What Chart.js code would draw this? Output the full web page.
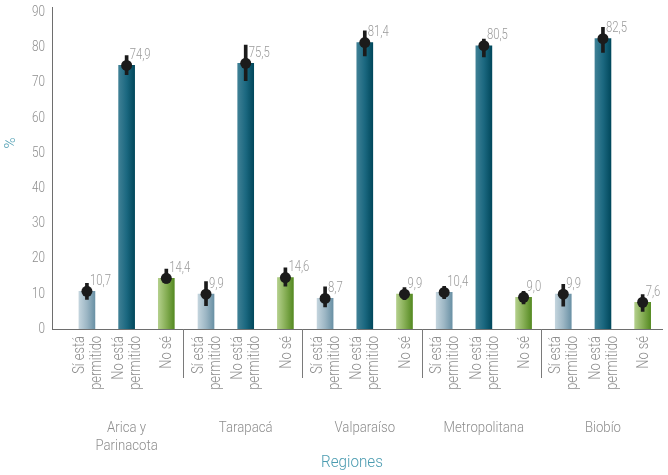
<!DOCTYPE html>
<html>
<head>
<meta charset="utf-8">
<script src="https://cdn.jsdelivr.net/npm/chart.js@4"></script>
<style>
  body { margin: 0; background: #fff; }
  #wrap { width: 668px; height: 475px; }
</style>
</head>
<body>
<div id="wrap"><canvas id="regionChart"></canvas></div>
<script>
// categories
const regions = [["Arica y", "Parinacota"], ["Tarapacá"], ["Valparaíso"], ["Metropolitana"], ["Biobío"]];
const answers = [["Sí está", "permitido"], ["No está", "permitido"], ["No sé"]];

// values per region: Sí está / No está / No sé
const values = [10.7, 74.9, 14.4, 9.9, 75.5, 14.6, 8.7, 81.4, 9.9, 10.4, 80.5, 9.0, 9.9, 82.5, 7.6];
// interval limits
const lower = [8.4, 72.3, 13.0, 6.6, 70.6, 12.2, 6.3, 77.6, 8.3, 8.6, 77.3, 7.1, 6.5, 78.6, 5.0];
const upper = [13.0, 77.7, 17.0, 13.5, 80.7, 17.4, 12.0, 84.7, 11.8, 12.1, 82.4, 10.7, 12.7, 85.7, 9.8];

const yTicks = [0, 10, 20, 30, 40, 50, 60, 70, 80, 90];

const FONT = "Roboto, 'Liberation Sans', sans-serif";
const GREY = "#8e8e8e";
const TEAL = "#4a9bb0";

const tickLabels = [];
regions.forEach(() => answers.forEach(a => tickLabels.push(a)));

// gradient stops for each answer type, left to right
const barStops = [
    ["#c3d4dd", "#9cb6c4", "#6a91a5"],
    ["#3f8095", "#1b6880", "#01485c"],
    ["#b3cf8b", "#86ae55", "#558a22"]
];

function barFill(c) {
    const stops = barStops[c.dataIndex % 3];
    const chart = c.chart;
    if (!chart.chartArea || c.dataIndex === undefined) return stops[1];
    const x = chart.scales.x.getPixelForValue(c.dataIndex);
    const g = chart.ctx.createLinearGradient(x - 8, 0, x + 8, 0);
    g.addColorStop(0, stops[0]);
    g.addColorStop(0.5, stops[1]);
    g.addColorStop(1, stops[2]);
    return g;
}

// narrow light text: the original uses a condensed face
function narrowText(ctx, text, x, y, size, opts) {
    const o = Object.assign({ align: "left", color: GREY, sx: 0.78, rot: 0 }, opts);
    ctx.save();
    ctx.translate(x, y);
    if (o.rot) ctx.rotate(o.rot);
    ctx.scale(o.sx, 1);
    ctx.font = "300 " + size + "px " + FONT;
    ctx.fillStyle = o.color;
    ctx.textAlign = o.align;
    ctx.textBaseline = "middle";
    ctx.fillText(text, 0, 0);
    ctx.restore();
}

const extras = {
    id: "extras",
    afterDatasetsDraw(chart) {
        const { ctx, chartArea, scales } = chart;
        const x = scales.x, y = scales.y;

        // y tick labels
        yTicks.forEach(v => narrowText(ctx, String(v), chartArea.left - 7, y.getPixelForValue(v), 15, { align: "right" }));

        // x tick labels, rotated
        tickLabels.forEach((lines, i) => {
            const px = x.getPixelForValue(i) + 1;
            lines.forEach((line, j) => {
                const off = (j - (lines.length - 1) / 2) * 17;
                narrowText(ctx, line, px + off, chartArea.bottom + 7, 16.5, { align: "right", rot: -Math.PI / 2 });
            });
        });

        // value labels next to the dots
        chart.getDatasetMeta(2).data.forEach((pt, i) => {
            narrowText(ctx, values[i].toFixed(1).replace(".", ","), pt.x + 3, pt.y - 10, 14.5, { color: "#9a9a9a" });
        });

        // separators between regions
        ctx.save();
        ctx.strokeStyle = "#7a7a7a";
        ctx.lineWidth = 1;
        for (let k = 0; k < regions.length - 1; k++) {
            const sx = Math.round(x.getPixelForValue(3 * k + 2.43)) + 0.5;
            ctx.beginPath();
            ctx.moveTo(sx, chartArea.bottom);
            ctx.lineTo(sx, chartArea.bottom + 49);
            ctx.stroke();
        }
        ctx.restore();

        // region names
        regions.forEach((r, k) => {
            const cx = x.getPixelForValue(3 * k + 1);
            r.forEach((line, j) => narrowText(ctx, line, cx, chartArea.bottom + 99 + j * 18, 15, { align: "center", sx: 0.88 }));
        });

        // axis titles
        narrowText(ctx, "Regiones", 352, 463, 16, { align: "center", color: TEAL, sx: 0.95 });
        narrowText(ctx, "%", 11, 143, 15, { align: "center", color: TEAL, sx: 1, rot: -Math.PI / 2 });
    }
};

new Chart(document.getElementById("regionChart"), {
    type: "bar",
    data: {
        datasets: [
            {
                data: values.map((v, i) => ({ x: i, y: v })),
                backgroundColor: barFill,
                barThickness: 16,
                grouped: false,
                order: 3
            },
            {
                data: lower.map((v, i) => ({ x: i, y: [v, upper[i]] })),
                backgroundColor: "#1b1b1b",
                barThickness: 3,
                grouped: false,
                order: 2
            },
            {
                type: "scatter",
                data: values.map((v, i) => ({ x: i, y: v })),
                backgroundColor: "#1b1b1b",
                borderWidth: 0,
                pointRadius: 5.5,
                order: 1
            }
        ]
    },
    options: {
        responsive: true,
        maintainAspectRatio: false,
        animation: false,
        layout: { padding: { left: 0, right: 3, top: 7, bottom: 0 } },
        plugins: { legend: { display: false }, tooltip: { enabled: false } },
        scales: {
            x: {
                type: "linear",
                offset: false,
                min: -0.88,
                max: 14.5,
                grid: { display: false },
                border: { display: true, color: "#6e6e6e" },
                ticks: { display: false },
                afterFit: s => { s.height = 146; s.paddingLeft = 0; s.paddingRight = 0; }
            },
            y: {
                min: 0,
                max: 91.5,
                grid: { display: false },
                border: { display: true, color: "#6e6e6e" },
                ticks: { display: false },
                afterFit: s => { s.width = 52; s.paddingTop = 0; s.paddingBottom = 0; }
            }
        }
    },
    plugins: [extras]
});
</script>
</body>
</html>
